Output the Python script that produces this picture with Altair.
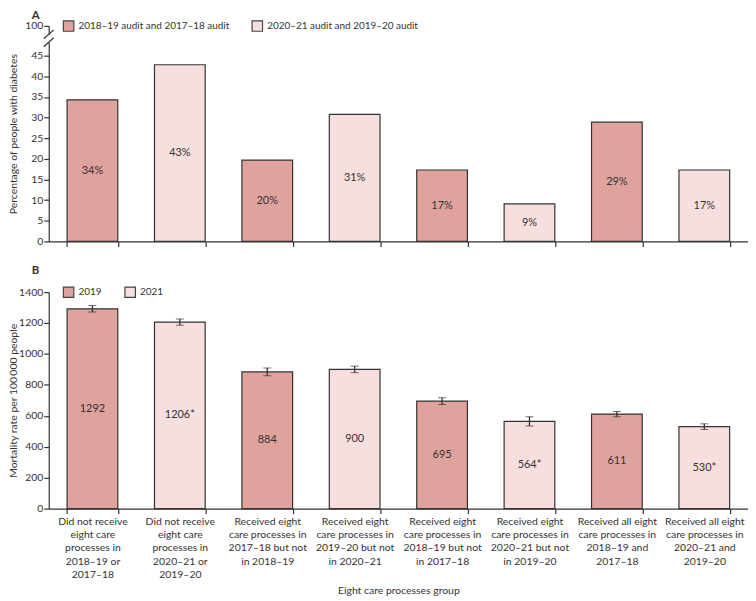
import altair as alt
import pandas as pd

# ---------------- data ----------------
categories = [
    "Did not receive|eight care|processes in|2018–19 or|2017–18",
    "Did not receive|eight care|processes in|2020–21 or|2019–20",
    "Received eight|care processes in|2017–18 but not|in 2018–19",
    "Received eight|care processes in|2019–20 but not|in 2020–21",
    "Received eight|care processes in|2018–19 but not|in 2017–18",
    "Received eight|care processes in|2020–21 but not|in 2019–20",
    "Received all eight|care processes in|2018–19 and|2017–18",
    "Received all eight|care processes in|2020–21 and|2019–20",
]
top_series_names = ["2018–19 audit and 2017–18 audit", "2020–21 audit and 2019–20 audit"]
top_series = [top_series_names[i % 2] for i in range(8)]
top_values = [34.3, 42.8, 19.7, 30.8, 17.3, 9.1, 28.9, 17.3]
top_labels = ["34%", "43%", "20%", "31%", "17%", "9%", "29%", "17%"]

bot_series_names = ["2019", "2021"]
bot_series = [bot_series_names[i % 2] for i in range(8)]
bot_values = [1292, 1206, 884, 900, 695, 564, 611, 530]
bot_labels = ["1292", "1206*", "884", "900", "695", "564*", "611", "530*"]
bot_err = [21, 20, 25, 21, 22, 30, 17, 18]

top_ticks = [0, 5, 10, 15, 20, 25, 30, 35, 40, 45, 100]
bot_ticks = [0, 200, 400, 600, 800, 1000, 1200, 1400]

DARK = "#dfa29d"
LIGHT = "#f8dfdf"
INK = "#333333"
FONT = "Lato"

df_top = pd.DataFrame({"category": categories, "series": top_series,
                       "value": top_values, "label": top_labels})
df_bot = pd.DataFrame({"category": categories, "series": bot_series,
                       "value": bot_values, "label": bot_labels, "err": bot_err})

W = 704
H_TOP = 217
H_BOT = 218

xscale = alt.Scale(domain=categories, paddingInner=0.42, paddingOuter=0.21)


def legend():
    return alt.Legend(orient="none", legendX=14, legendY=-6, direction="horizontal",
                      title=None, symbolType="square", symbolSize=110,
                      symbolStrokeColor="#444", symbolStrokeWidth=1.2,
                      labelFontSize=10, labelColor=INK, columnPadding=20,
                      labelFont=FONT, labelLimit=400)


def yaxis(values, title, tpad):
    return alt.Axis(values=values, title=title, format="d", grid=False, tickSize=5,
                    domainColor=INK, tickColor=INK, domainWidth=1.2, tickWidth=1.2,
                    labelColor=INK, labelFontSize=10.5, labelPadding=1,
                    titleFontSize=10.5, titleFontWeight="normal", titleColor=INK,
                    titlePadding=tpad)


one = pd.DataFrame({"a": [0]})

# ---------------- panel A ----------------
x_top = alt.X("category:N", sort=categories, scale=xscale,
              axis=alt.Axis(labels=False, title=None, tickBand="extent", tickSize=5,
                            domainColor=INK, tickColor=INK, domainWidth=1.2, tickWidth=1.2))
y_top_scale = alt.Scale(domain=[0, 45, 100], range=[H_TOP, 30, 0], nice=False, zero=False)
y_top_axis = yaxis(top_ticks, "Percentage of people with diabetes", 6)

top_bars = alt.Chart(df_top).mark_bar(stroke=INK, strokeWidth=1.2).encode(
    x=x_top,
    y=alt.Y("value:Q", scale=y_top_scale, axis=y_top_axis),
    color=alt.Color("series:N",
                    scale=alt.Scale(domain=top_series_names, range=[DARK, LIGHT]),
                    legend=legend()),
)
top_text = alt.Chart(df_top).transform_calculate(mid="datum.value / 2").mark_text(
    color=INK, fontSize=11, font=FONT).encode(
    x=x_top,
    y=alt.Y("mid:Q", scale=y_top_scale, axis=y_top_axis),
    text="label:N",
)
gap = alt.Chart(one).mark_rule(color="white", strokeWidth=4).encode(
    x=alt.value(0), y=alt.value(9), y2=alt.value(17))
slash1 = alt.Chart(one).mark_rule(color=INK, strokeWidth=1.2).encode(
    x=alt.value(-5), x2=alt.value(5), y=alt.value(13), y2=alt.value(4))
slash2 = alt.Chart(one).mark_rule(color=INK, strokeWidth=1.2).encode(
    x=alt.value(-5), x2=alt.value(5), y=alt.value(21), y2=alt.value(12))
letter_a = alt.Chart(pd.DataFrame({"t": ["A"]})).mark_text(
    fontSize=11.5, fontWeight="bold", color=INK, font=FONT, baseline="top", align="left").encode(
    x=alt.value(-17), y=alt.value(-16), text="t:N")

panel_a = alt.layer(top_bars, top_text, gap, slash1, slash2, letter_a).properties(
    width=W, height=H_TOP)

# ---------------- panel B ----------------
x_bot = alt.X("category:N", sort=categories, scale=xscale,
              axis=alt.Axis(title="Eight care processes group", labelAngle=0,
                            labelExpr="split(datum.label, '|')", labelLineHeight=13.3,
                            labelFontSize=10.5, labelColor=INK, labelPadding=3,
                            labelBaseline="top", labelFont=FONT,
                            tickBand="extent", tickSize=5, domainColor=INK, tickColor=INK,
                            domainWidth=1.2, tickWidth=1.2,
                            titleFontSize=10.5, titleFontWeight="normal", titleColor=INK,
                            titlePadding=6))
y_bot_scale = alt.Scale(domain=[0, 1400], nice=False)
y_bot_axis = yaxis(bot_ticks, "Mortality rate per 100\u2009000 people", 0)

bot_bars = alt.Chart(df_bot).mark_bar(stroke=INK, strokeWidth=1.2).encode(
    x=x_bot,
    y=alt.Y("value:Q", scale=y_bot_scale, axis=y_bot_axis),
    color=alt.Color("series:N",
                    scale=alt.Scale(domain=bot_series_names, range=[DARK, LIGHT]),
                    legend=legend()),
)
bot_text = alt.Chart(df_bot).transform_calculate(mid="datum.value / 2").mark_text(
    color=INK, fontSize=11, font=FONT).encode(
    x=x_bot,
    y=alt.Y("mid:Q", scale=y_bot_scale, axis=y_bot_axis),
    text="label:N",
)
bot_err_chart = alt.Chart(df_bot).transform_calculate(
    lo="datum.value - datum.err", hi="datum.value + datum.err").mark_errorbar(
    ticks={"size": 8, "color": INK, "strokeWidth": 1.3},
    rule={"color": INK, "strokeWidth": 1.3}).encode(
    x=x_bot,
    y=alt.Y("lo:Q", scale=y_bot_scale, axis=y_bot_axis),
    y2="hi:Q",
)
letter_b = alt.Chart(pd.DataFrame({"t": ["B"]})).mark_text(
    fontSize=11.5, fontWeight="bold", color=INK, font=FONT, baseline="top", align="left").encode(
    x=alt.value(-17), y=alt.value(-27), text="t:N")

panel_b = alt.layer(bot_bars, bot_text, bot_err_chart, letter_b).properties(
    width=W, height=H_BOT)

chart = alt.vconcat(panel_a, panel_b, spacing=18).resolve_scale(
    color="independent", y="independent", x="independent"
).resolve_legend(color="independent").configure(
    font=FONT, padding=0
).configure_view(stroke=None)

chart.save("out.html", embed_options={"renderer": "svg", "actions": False})
